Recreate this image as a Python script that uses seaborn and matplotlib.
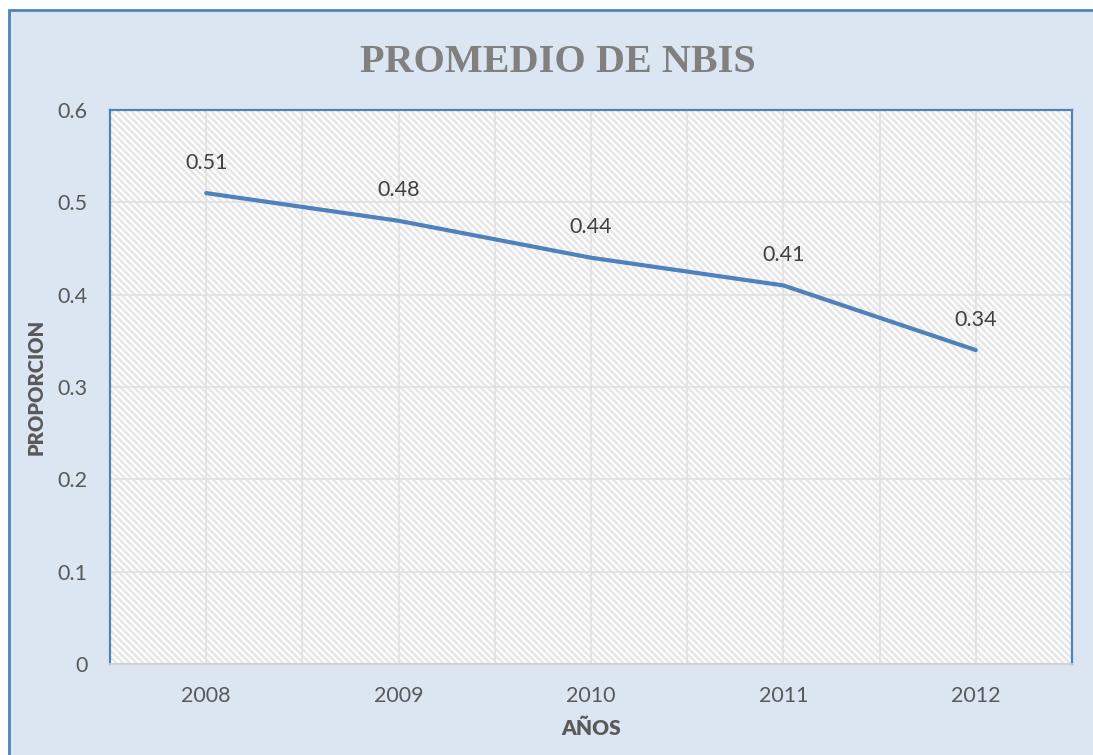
"""
Promedio de NBIS 2008-2012, line chart with data labels
"""
import matplotlib
matplotlib.use("Agg")
import matplotlib.pyplot as plt
from matplotlib.patches import Rectangle
from matplotlib.ticker import MultipleLocator
import seaborn as sns

years = [2008, 2009, 2010, 2011, 2012]
promedio = [0.51, 0.48, 0.44, 0.41, 0.34]
y_ticks = [0, 0.1, 0.2, 0.3, 0.4, 0.5, 0.6]
y_tick_labels = ["0", "0.1", "0.2", "0.3", "0.4", "0.5", "0.6"]

TITLE = "PROMEDIO DE NBIS"
XLABEL = "AÑOS"
YLABEL = "PROPORCION"

BLUE = "#4F81BD"
FRAME_BG = "#DCE6F2"
GRID = "#E0E0E0"
TEXT = "#595959"

sns.set_style("white")
plt.rcParams["font.family"] = ["Lato", "DejaVu Sans"]
plt.rcParams["hatch.color"] = "#E6E6E6"
plt.rcParams["hatch.linewidth"] = 1.8

W, H = 1093, 755
fig = plt.figure(figsize=(W / 100, H / 100), dpi=100, facecolor="white")

# outer chart frame (cut off on the right and bottom like the original)
fig.patches.append(Rectangle((9 / W, -0.05), 1.1, 1 - 10 / H + 0.05,
                             transform=fig.transFigure, facecolor=FRAME_BG,
                             edgecolor=BLUE, linewidth=2, zorder=-1))

ax = fig.add_axes([110 / W, 1 - 664 / H, (1072 - 110) / W, (664 - 110) / H])
ax.set_zorder(1)
ax.set_facecolor("white")
ax.add_patch(Rectangle((0, 0), 1, 1, transform=ax.transAxes, facecolor="white",
                       edgecolor="#E6E6E6", linewidth=0, hatch="\\" * 5, zorder=0.1))

sns.lineplot(x=years, y=promedio, ax=ax, color=BLUE, linewidth=3, zorder=3)

for x, v in zip(years, promedio):
    ax.annotate(f"{v:.2f}", (x, v), xytext=(0, 22), textcoords="offset points",
                ha="center", va="center", fontsize=15.5, color="#404040")

ax.set_xlim(years[0] - 0.5, years[-1] + 0.5)
ax.set_ylim(0, 0.6)
ax.set_xticks(years)
ax.set_xticklabels([str(y) for y in years])
ax.xaxis.set_minor_locator(MultipleLocator(0.5))
ax.set_yticks(y_ticks)
ax.set_yticklabels(y_tick_labels)

ax.set_axisbelow(True)
ax.grid(True, which="both", color=GRID, linewidth=1.2)
ax.tick_params(axis="both", which="both", length=0, labelsize=15.5, labelcolor=TEXT)
ax.tick_params(axis="x", pad=16)
ax.tick_params(axis="y", pad=16)

for side in ["left", "top", "right"]:
    ax.spines[side].set_color(BLUE)
    ax.spines[side].set_linewidth(1.6)
ax.spines["bottom"].set_color("#D0D0D0")
ax.spines["bottom"].set_linewidth(1.3)

ax.set_xlabel(XLABEL, fontsize=15, fontweight="heavy", color=TEXT, labelpad=9)
ax.set_ylabel(YLABEL, fontsize=14.5, fontweight="heavy", color=TEXT, labelpad=9)

fig.text(558 / W, 1 - 72 / H, TITLE, ha="center", va="baseline",
         fontsize=29, fontweight="bold", color="#808080",
         family=["Liberation Serif", "DejaVu Serif"])

fig.savefig("out.png", dpi=100, facecolor="white")
